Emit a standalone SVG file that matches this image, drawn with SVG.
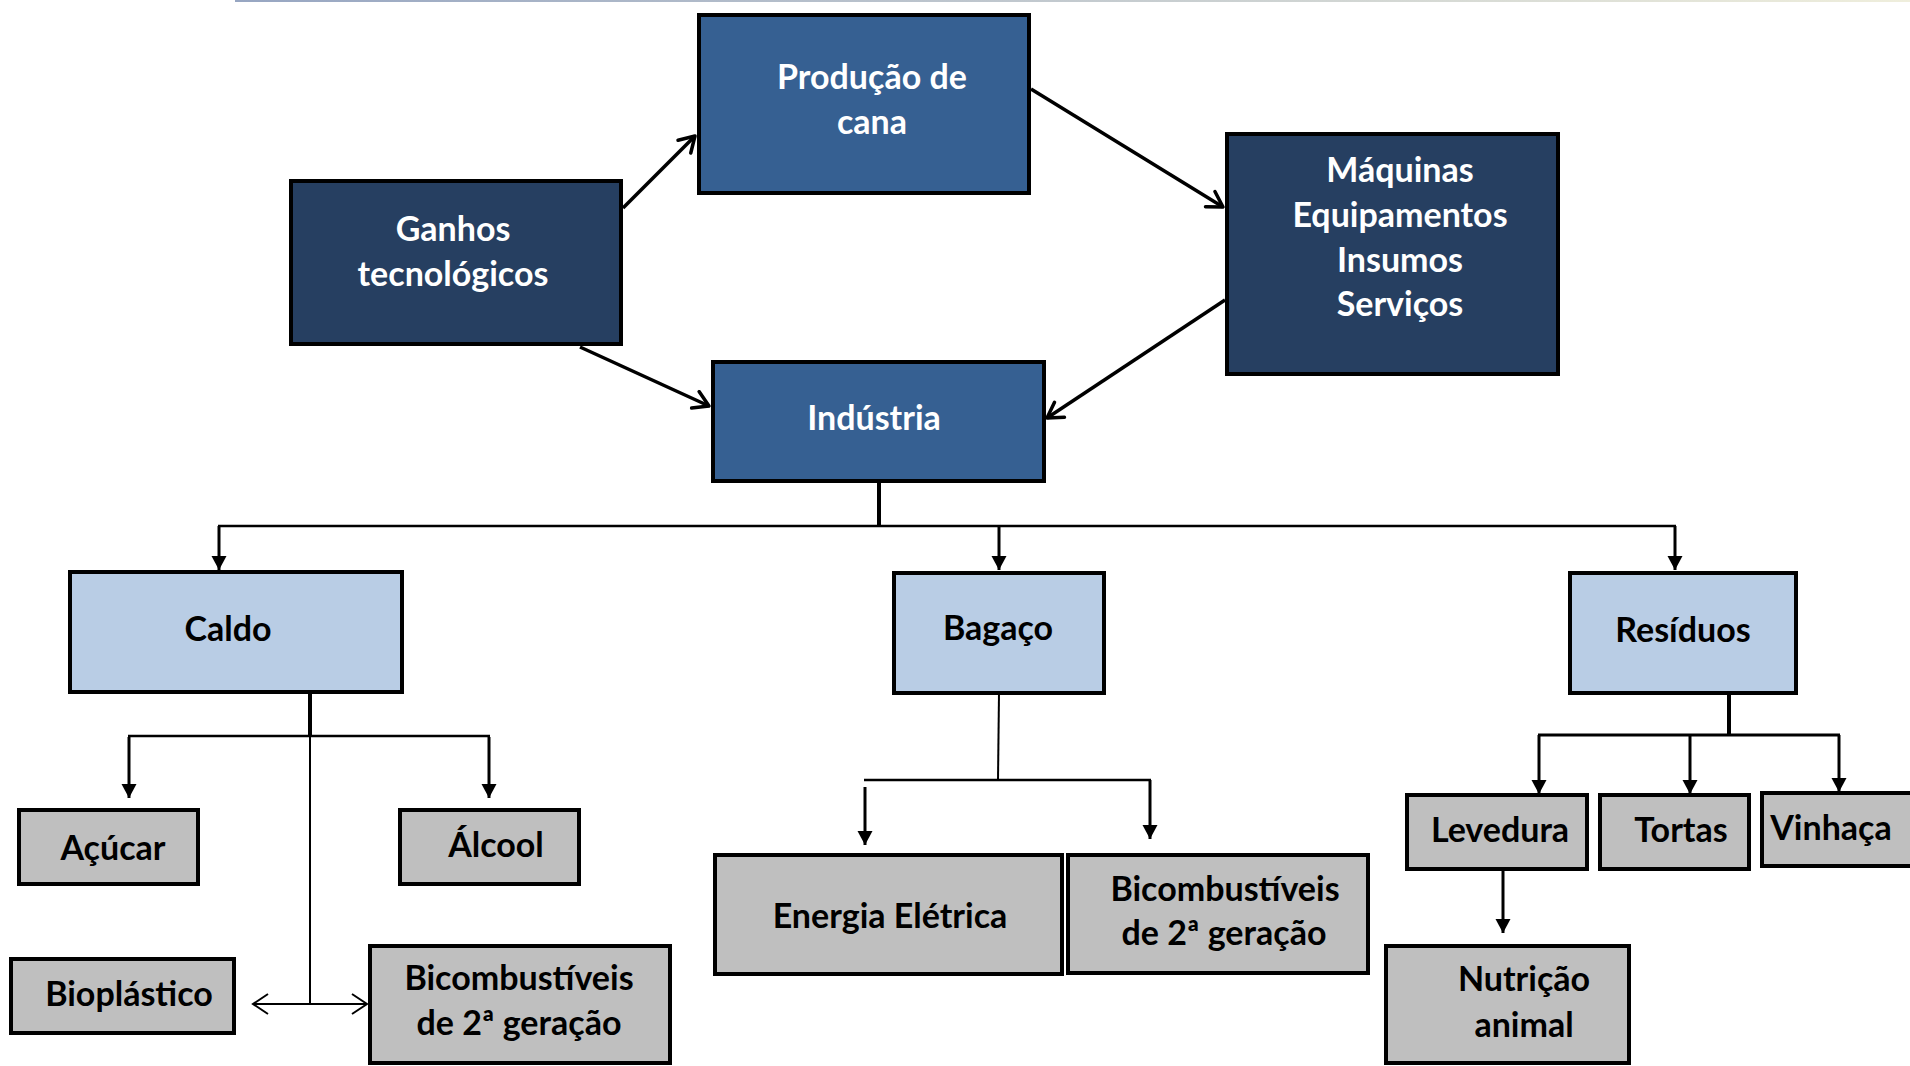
<svg xmlns="http://www.w3.org/2000/svg" width="1910" height="1066" viewBox="0 0 1910 1066">
<style>
.box{stroke:#000;stroke-width:4}
.mid{fill:#366092}
.dark{fill:#263F61}
.light{fill:#B9CDE5}
.grey{fill:#BFBFBF}
text{font-family:Lato,"Liberation Sans",sans-serif;font-weight:bold;font-size:34px;text-anchor:middle}
.w{fill:#fff}
.k{fill:#000}
.c{fill:none;stroke:#000}
</style>
<defs>
<linearGradient id="tg" x1="0" x2="1" y1="0" y2="0">
<stop offset="0" stop-color="#97A6C2"/>
<stop offset="1" stop-color="#EFEEDC"/>
</linearGradient>
<marker id="openA" markerUnits="userSpaceOnUse" viewBox="-18 -11 21 22" markerWidth="21" markerHeight="22" refX="0" refY="0" orient="auto">
<path d="M -15 -9 L 0 0 L -15 9" fill="none" stroke="#000" stroke-width="3.5" stroke-linecap="round" stroke-linejoin="round"/>
</marker>
<marker id="thinA" markerUnits="userSpaceOnUse" viewBox="-18 -12 21 24" markerWidth="21" markerHeight="24" refX="0" refY="0" orient="auto">
<path d="M -15 -10 L 0 0 L -15 10" fill="none" stroke="#000" stroke-width="2"/>
</marker>
<marker id="triA" markerUnits="userSpaceOnUse" viewBox="-15 -8 16 16" markerWidth="16" markerHeight="16" refX="0" refY="0" orient="auto">
<path d="M -14 -7.5 L 0 0 L -14 7.5 Z" fill="#000"/>
</marker>
</defs>
<rect x="235" y="0" width="1675" height="2" fill="url(#tg)"/>

<g id="connectors">
<line class="c" stroke-width="3.5" x1="623" y1="208" x2="695" y2="136" marker-end="url(#openA)"/>
<line class="c" stroke-width="3.5" x1="580" y1="347" x2="709" y2="406" marker-end="url(#openA)"/>
<line class="c" stroke-width="3.5" x1="1031" y1="89" x2="1223" y2="207" marker-end="url(#openA)"/>
<line class="c" stroke-width="3.5" x1="1225" y1="300" x2="1047" y2="418" marker-end="url(#openA)"/>

<line class="c" stroke-width="4" x1="879" y1="482" x2="879" y2="527"/>
<line class="c" stroke-width="2.5" x1="218" y1="526" x2="1676" y2="526"/>
<line class="c" stroke-width="3" x1="219" y1="526" x2="219" y2="570" marker-end="url(#triA)"/>
<line class="c" stroke-width="3" x1="999" y1="526" x2="999" y2="570" marker-end="url(#triA)"/>
<line class="c" stroke-width="3" x1="1675" y1="526" x2="1675" y2="570" marker-end="url(#triA)"/>

<line class="c" stroke-width="4" x1="310" y1="692" x2="310" y2="736"/>
<line class="c" stroke-width="2.5" x1="128" y1="736" x2="490" y2="736"/>
<line class="c" stroke-width="3" x1="129" y1="737" x2="129" y2="798" marker-end="url(#triA)"/>
<line class="c" stroke-width="3" x1="489" y1="737" x2="489" y2="798" marker-end="url(#triA)"/>
<line class="c" stroke-width="2" x1="310" y1="736" x2="310" y2="1004"/>
<line class="c" stroke-width="2" x1="310" y1="1004" x2="253" y2="1004" marker-end="url(#thinA)"/>
<line class="c" stroke-width="2" x1="310" y1="1004" x2="367" y2="1004" marker-end="url(#thinA)"/>

<line class="c" stroke-width="2" x1="999" y1="693" x2="998" y2="780"/>
<line class="c" stroke-width="2.5" x1="864" y1="780" x2="1151" y2="780"/>
<line class="c" stroke-width="3" x1="865" y1="787" x2="865" y2="845" marker-end="url(#triA)"/>
<line class="c" stroke-width="3" x1="1150" y1="780" x2="1150" y2="839" marker-end="url(#triA)"/>

<line class="c" stroke-width="4" x1="1729" y1="693" x2="1729" y2="736"/>
<line class="c" stroke-width="3" x1="1538" y1="735" x2="1840" y2="735"/>
<line class="c" stroke-width="3" x1="1539" y1="735" x2="1539" y2="794" marker-end="url(#triA)"/>
<line class="c" stroke-width="3" x1="1690" y1="735" x2="1690" y2="794" marker-end="url(#triA)"/>
<line class="c" stroke-width="3" x1="1839" y1="735" x2="1839" y2="792" marker-end="url(#triA)"/>
<line class="c" stroke-width="3" x1="1503" y1="871" x2="1503" y2="933" marker-end="url(#triA)"/>
</g>

<g id="producao">
<rect class="box mid" x="699" y="15" width="330" height="178"/>
<text class="w" x="872" y="89">Produção de</text>
<text class="w" x="872" y="134">cana</text>
</g>
<g id="ganhos">
<rect class="box dark" x="291" y="181" width="330" height="163"/>
<text class="w" x="453" y="241">Ganhos</text>
<text class="w" x="453" y="286">tecnológicos</text>
</g>
<g id="maquinas">
<rect class="box dark" x="1227" y="134" width="331" height="240"/>
<text class="w" x="1400" y="182">Máquinas</text>
<text class="w" x="1400" y="227">Equipamentos</text>
<text class="w" x="1400" y="272">Insumos</text>
<text class="w" x="1400" y="316">Serviços</text>
</g>
<g id="industria">
<rect class="box mid" x="713" y="362" width="331" height="119"/>
<text class="w" x="874" y="430">Indústria</text>
</g>

<g id="caldo">
<rect class="box light" x="70" y="572" width="332" height="120"/>
<text class="k" x="228" y="641">Caldo</text>
</g>
<g id="bagaco">
<rect class="box light" x="894" y="573" width="210" height="120"/>
<text class="k" x="998" y="640">Bagaço</text>
</g>
<g id="residuos">
<rect class="box light" x="1570" y="573" width="226" height="120"/>
<text class="k" x="1683" y="642">Resíduos</text>
</g>

<g id="acucar">
<rect class="box grey" x="19" y="810" width="179" height="74"/>
<text class="k" x="113" y="860">Açúcar</text>
</g>
<g id="alcool">
<rect class="box grey" x="400" y="810" width="179" height="74"/>
<text class="k" x="496" y="857">Álcool</text>
</g>
<g id="bioplastico">
<rect class="box grey" x="11" y="959" width="223" height="74"/>
<text class="k" x="129" y="1006">Bioplástico</text>
</g>
<g id="bicomb1">
<rect class="box grey" x="370" y="946" width="300" height="117"/>
<text class="k" x="519" y="990">Bicombustíveis</text>
<text class="k" x="519" y="1035">de 2ª geração</text>
</g>
<g id="energia">
<rect class="box grey" x="715" y="855" width="347" height="119"/>
<text class="k" x="890" y="928">Energia Elétrica</text>
</g>
<g id="bicomb2">
<rect class="box grey" x="1068" y="855" width="300" height="118"/>
<text class="k" x="1225" y="901">Bicombustíveis</text>
<text class="k" x="1224" y="945">de 2ª geração</text>
</g>
<g id="levedura">
<rect class="box grey" x="1407" y="795" width="180" height="74"/>
<text class="k" x="1500" y="842">Levedura</text>
</g>
<g id="tortas">
<rect class="box grey" x="1600" y="795" width="149" height="74"/>
<text class="k" x="1681" y="842">Tortas</text>
</g>
<g id="vinhaca">
<rect class="box grey" x="1762" y="793" width="152" height="73"/>
<text class="k" x="1831" y="840">Vinhaça</text>
</g>
<g id="nutricao">
<rect class="box grey" x="1386" y="946" width="243" height="117"/>
<text class="k" x="1524" y="991">Nutrição</text>
<text class="k" x="1524" y="1037">animal</text>
</g>
</svg>
